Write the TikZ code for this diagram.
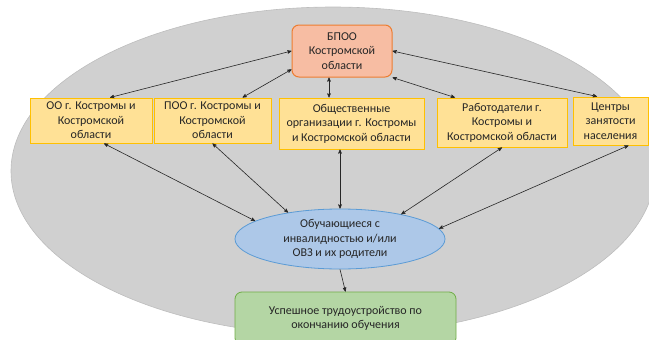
\documentclass[tikz,border=0pt]{standalone}
\usepackage{fontspec}
\setmainfont{Carlito}
\usetikzlibrary{arrows,shapes}

\definecolor{bgfill}{HTML}{D0D0D0}
\definecolor{bgline}{HTML}{BDBDBD}
\definecolor{orgfill}{HTML}{FFE196}
\definecolor{orgline}{HTML}{FFC000}
\definecolor{mainfill}{HTML}{F7BDA3}
\definecolor{mainline}{HTML}{ED7D31}
\definecolor{studfill}{HTML}{ADC8E8}
\definecolor{studline}{HTML}{5B9BD5}
\definecolor{resfill}{HTML}{B4D6A4}
\definecolor{resline}{HTML}{70AD47}
\definecolor{txt}{HTML}{262626}

\begin{document}
\begin{tikzpicture}[x=1pt,y=-1pt,>=stealth',font=\fontsize{12}{14.5}\selectfont]
  \tikzstyle{org}=[rectangle,draw=orgline,fill=orgfill,line width=1pt,
              align=center,inner sep=0pt,text=txt]
  \tikzstyle{main}=[rectangle,rounded corners=7pt,draw=mainline,fill=mainfill,
              line width=1pt,align=center,inner sep=0pt,text=txt]
  \tikzstyle{stud}=[ellipse,draw=studline,fill=studfill,line width=0.8pt,
              align=center,inner sep=0pt,text=txt]
  \tikzstyle{res}=[rectangle,rounded corners=7pt,draw=resline,fill=resfill,
              line width=0.8pt,align=center,inner sep=0pt,text=txt]
  \tikzstyle{link}=[line width=0.6pt,black!85]
  \clip (0,0) rectangle (649,340);
  \useasboundingbox (0,0) rectangle (649,340);
  % background
  \filldraw[fill=bgfill,draw=bgline,line width=0.6pt] (333,171) ellipse [x radius=322pt,y radius=164pt];
    \node [main,minimum width=100pt,minimum height=52pt] (bpoo) at (342,51) {БПОО\\Костромской\\области};
    \node [org,minimum width=122pt,minimum height=45pt] (oo) at (91,120.5) {ОО г. Костромы и\\Костромской\\области};
    \node [org,minimum width=117pt,minimum height=45pt] (poo) at (212.5,120.5) {ПОО г. Костромы и\\Костромской\\области};
    \node [org,minimum width=145pt,minimum height=51pt] (obsh) at (351.5,123.5) {Общественные\\организации г. Костромы\\и Костромской области};
    \node [org,minimum width=130pt,minimum height=49pt] (rab) at (502,122.5) {Работодатели г.\\Костромы и\\Костромской области};
    \node [org,minimum width=75pt,minimum height=48pt] (czn) at (610.5,121) {Центры\\занятости\\населения};
    \node [stud,minimum width=210pt,minimum height=60pt] (stud) at (340,239) {Обучающиеся с\\инвалидностью и/или\\ОВЗ и их родители};
    \node [res,minimum width=221pt,minimum height=53pt] (res) at (345.5,318.5) {Успешное трудоустройство по\\окончанию обучения};
  % links
  \draw[link,<->] (bpoo.west) -- ([xshift=19pt]oo.north);
  \draw[link,<->] (bpoo.-160) -- ([xshift=30pt]poo.north);
  \draw[link,<->] ([xshift=-13pt]bpoo.south) -- ([xshift=-22.5pt]obsh.north);
  \draw[link,<->] (bpoo.south east) -- ([xshift=-47pt]rab.north);
  \draw[link,<->] (bpoo.east) -- ([xshift=-13.5pt]czn.north);
  \draw[link,<->] ([xshift=13pt]oo.south) -- (stud.168);
  \draw[link,<->] (poo.south) -- (stud.153);
  \draw[link,<->] ([xshift=-11.5pt]obsh.south) -- (stud.north);
  \draw[link,<->] (rab.south) -- (stud.22);
  \draw[link,<->] ([xshift=18pt]czn.south) -- (stud.6);
  \draw[link,->] (stud.south) -- (res.north);
\end{tikzpicture}
\end{document}
